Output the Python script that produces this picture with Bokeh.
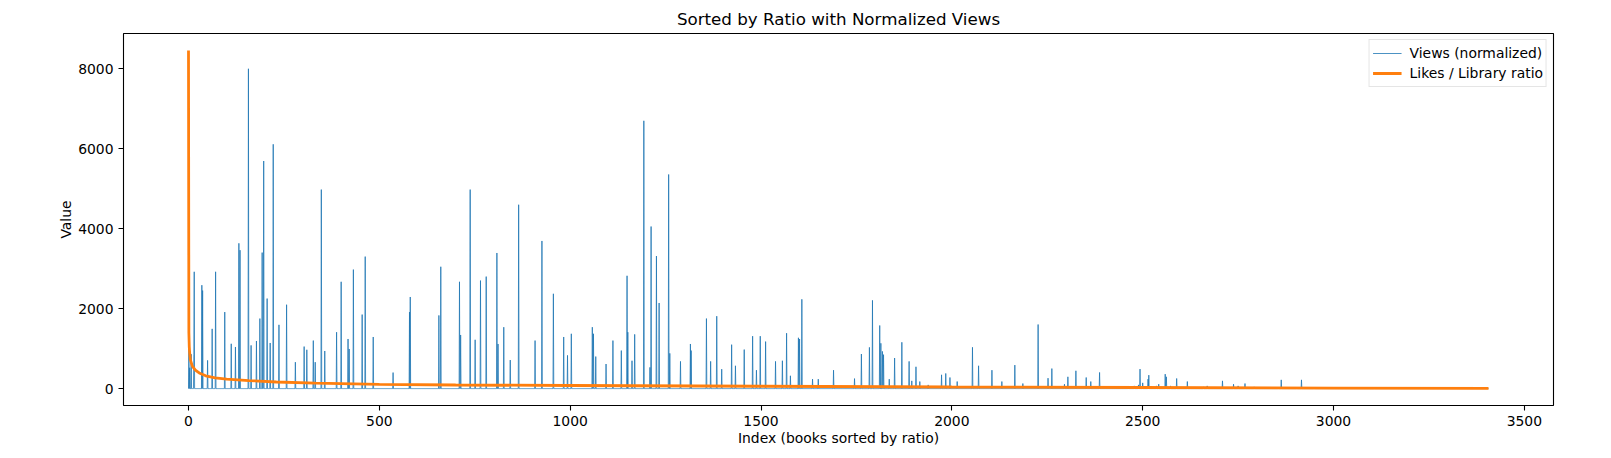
import numpy as np
from bokeh.plotting import figure
from bokeh.models import Range1d, Legend, LegendItem, FixedTicker
from bokeh.embed import file_html
from bokeh.resources import INLINE

# ---------------- data ----------------
N_BOOKS = 3407

# views (normalized): positions (index in sorted order) and heights of the visible spikes;
# everything between them sits close to zero
spike_idx = [1, 3, 7, 14, 15, 35, 37, 50, 62, 71, 95, 112, 123, 132, 135, 157, 164, 178,
             187, 193, 197, 206, 214, 222, 237, 257, 280, 303, 310, 327, 332, 348, 357,
             388, 400, 418, 421, 432, 455, 463, 484, 536, 579, 581,
             656, 661, 710, 713, 738, 751, 765, 780, 808, 811, 826, 843, 865, 908, 926,
             956, 983, 993, 1003, 1058, 1061, 1067, 1094, 1112, 1134, 1149, 1151, 1169,
             1162, 1193, 1209, 1212, 1226, 1233, 1258, 1261, 1289, 1315, 1317, 1357, 1368,
             1384, 1397, 1423, 1433, 1456, 1478, 1488, 1498, 1512, 1538, 1556, 1567, 1577,
             1598, 1601, 1607, 1635, 1650, 1690, 1745, 1763, 1784,
             1792, 1811, 1814, 1818, 1821, 1836, 1850, 1869, 1888, 1895, 1906, 1916, 1938,
             1973, 1984, 1995, 2014, 2054, 2070, 2105, 2131, 2165, 2186, 2226, 2252, 2262,
             2295, 2304, 2325, 2352, 2364, 2387,
             2462, 2478, 2489, 2493, 2500, 2514, 2516, 2536, 2542, 2559, 2562, 2573, 2589,
             2617, 2659, 2669, 2709, 2738, 2750, 2768, 2792, 2855, 2863, 2904, 2916, 2949,
             3108]
spike_val = [1100, 520, 860, 860, 2920, 2585, 2450, 705, 1493, 2920, 1913, 1120, 1040, 3632,
             3460, 7996, 1080, 1190, 1750, 3400, 5690, 2250, 1140, 6108, 1594, 2097, 660,
             1050, 970, 1200, 660, 4975, 940, 1410, 2670, 1240, 990, 2975, 1850, 3300, 1290,
             400, 1913, 2290,
             1829, 3046, 2670, 1340, 4975, 1220, 2700, 2800, 3390, 1115, 1535, 713, 4597,
             1200, 3691, 2370, 1290, 830, 1370, 1535, 1370, 800, 614, 1200, 950, 2820, 1410,
             1355,
             696, 6695, 530, 4052, 3314, 2140, 5353, 880, 680, 1115, 950, 1750, 680, 1810,
             485, 1098, 570, 975, 1310, 460, 1310, 1175, 680, 696, 1385, 320, 1270, 1240,
             2232, 235, 235, 460, 250, 864, 1030,
             2206, 1577, 1132, 930, 848, 235, 764, 1158, 680, 193, 545, 176, 92, 344, 378,
             277, 176, 1032, 570, 460, 176, 587, 126, 1602, 260, 500, 109, 294, 445, 277,
             176, 403,
             42, 67, 92, 487, 143, 235, 336, 67, 109, 361, 294, 67, 252, 176, 42, 67, 193,
             109, 67, 126, 42, 25, 218, 25, 218, 25,
             25]

# likes / library ratio (sorted, descending)
ratio_idx = [0, 1, 2, 3, 5, 10, 18, 28, 45, 70, 100, 158, 230, 333, 500, 700, 1000, 1500,
             2000, 2500, 3000, 3406]
ratio_val = [8455, 1400, 1050, 900, 720, 560, 460, 390, 320, 268, 235, 200, 165, 135, 105,
             90, 77, 58, 40, 27, 13, 3]

x_ticks = [0, 500, 1000, 1500, 2000, 2500, 3000, 3500]
y_ticks = [0, 2000, 4000, 6000, 8000]

# ---------------- build series ----------------
views = np.zeros(N_BOOKS)
views[np.array(spike_idx)] = np.array(spike_val, dtype=float)
xs = np.arange(N_BOOKS)

FONT = "DejaVu Sans"

p = figure(width=1599, height=450, output_backend="svg", toolbar_location=None,
           x_range=Range1d(-170.3, 3576.3), y_range=Range1d(-423, 8878),
           min_border_left=123, min_border_right=46, min_border_top=33,
           min_border_bottom=45, title="Sorted by Ratio with Normalized Views")

p.title.text_font = FONT
p.title.text_font_size = "16.7px"
p.title.text_font_style = "normal"
p.title.align = "center"
p.title.text_color = "black"

p.xgrid.visible = False
p.ygrid.visible = False
p.outline_line_color = "black"
p.outline_line_width = 1.1

for ax in (p.xaxis[0], p.yaxis[0]):
    ax.axis_line_color = None
    ax.major_tick_out = 5
    ax.major_tick_in = 0
    ax.minor_tick_line_color = None
    ax.major_tick_line_width = 1.1
    ax.major_label_text_font = FONT
    ax.major_label_text_font_size = "13.9px"
    ax.major_label_text_color = "black"
    ax.axis_label_text_font = FONT
    ax.axis_label_text_font_size = "13.9px"
    ax.axis_label_text_font_style = "normal"
    ax.axis_label_text_color = "black"
    ax.major_label_standoff = 5

p.xaxis.ticker = FixedTicker(ticks=x_ticks)
p.yaxis.ticker = FixedTicker(ticks=y_ticks)
p.xaxis.axis_label = "Index (books sorted by ratio)"
p.yaxis.axis_label = "Value"
p.xaxis.axis_label_standoff = 1
p.yaxis.axis_label_standoff = 1

r_views = p.line(xs, views, line_color="#1f77b4", line_width=1.0, line_alpha=0.8)
r_ratio = p.line(ratio_idx, ratio_val, line_color="#ff7f0e", line_width=2.8)

legend = Legend(items=[LegendItem(label="Views (normalized)", renderers=[r_views]),
                       LegendItem(label="Likes / Library ratio", renderers=[r_ratio])],
                location="top_right")
legend.label_text_font = FONT
legend.label_text_font_size = "13.9px"
legend.label_text_color = "black"
legend.glyph_width = 29
legend.glyph_height = 20
legend.label_height = 20
legend.label_standoff = 8
legend.spacing = 0
legend.padding = 3
legend.margin = 6
legend.border_line_color = "#cccccc"
legend.border_line_width = 1
legend.background_fill_alpha = 0.8
p.add_layout(legend)

open("out.html", "w").write(file_html(p, INLINE))
